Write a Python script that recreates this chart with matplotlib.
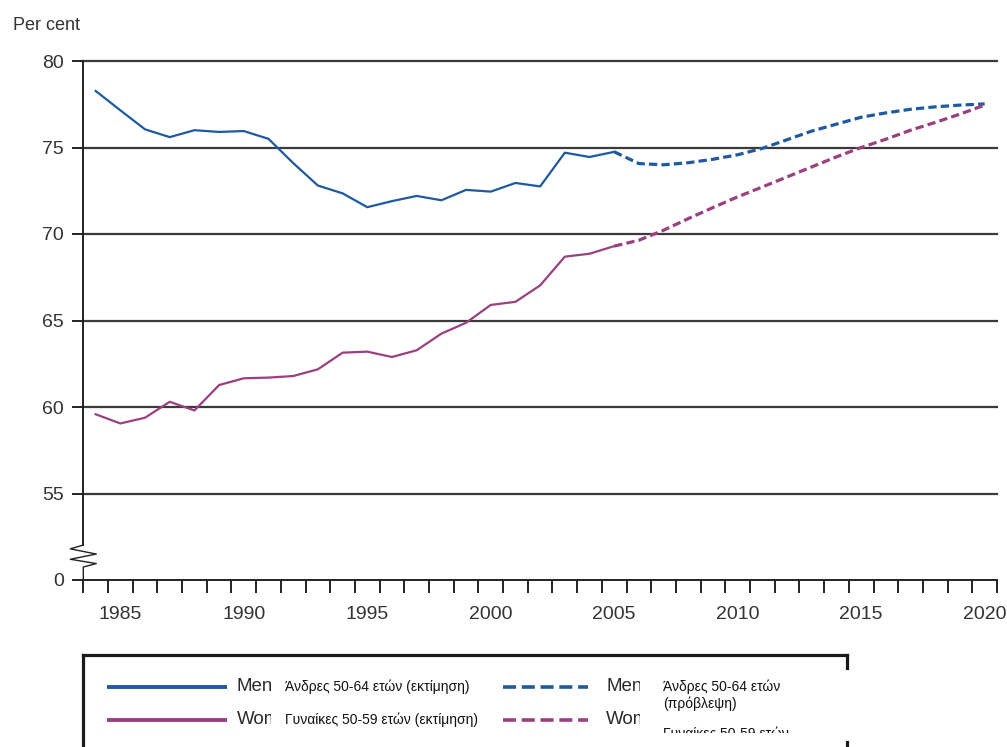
import matplotlib
matplotlib.use("Agg")
import matplotlib.pyplot as plt
from matplotlib.lines import Line2D
from matplotlib.transforms import Bbox, TransformedBbox

# ---------------- data ----------------
est_years = list(range(1984, 2006))
men_est = [78.27, 77.15, 76.05, 75.6, 76.0, 75.9, 75.95, 75.5, 74.1, 72.8, 72.35,
           71.55, 71.9, 72.2, 71.95, 72.55, 72.45, 72.95, 72.75, 74.7, 74.45, 74.75]
women_est = [59.58, 59.05, 59.38, 60.3, 59.8, 61.27, 61.66, 61.7, 61.79, 62.18, 63.14,
             63.2, 62.89, 63.28, 64.24, 64.87, 65.9, 66.08, 67.03, 68.69, 68.86, 69.3]

proj_years = list(range(2005, 2021))
men_proj = [74.75, 74.07, 74.0, 74.12, 74.32, 74.58, 74.95, 75.45, 75.95, 76.35,
            76.75, 77.0, 77.21, 77.35, 77.45, 77.52]
women_proj = [69.3, 69.64, 70.22, 70.89, 71.53, 72.15, 72.72, 73.3, 73.88, 74.46,
              75.0, 75.48, 76.0, 76.45, 76.93, 77.45]

y_ticks = [50, 55, 60, 65, 70, 75, 80]
y_tick_labels = ["0", "55", "60", "65", "70", "75", "80"]
x_label_years = [1985, 1990, 1995, 2000, 2005, 2010, 2015, 2020]

legend_short = ["Men", "Women", "Men", "Women"]
legend_greek = ["Άνδρες 50-64 ετών (εκτίμηση)", "Γυναίκες 50-59 ετών (εκτίμηση)",
                "Άνδρες 50-64 ετών\n(πρόβλεψη)", "Γυναίκες 50-59 ετών"]
y_axis_title = "Per cent"

# ---------------- style ----------------
BLUE = "#1d5aa0"
PURPLE = "#9a3f80"
GRID = "#3a3a3a"
TXT = "#333333"
SANS = ["Liberation Sans", "DejaVu Sans"]

W, H = 1007, 747
fig = plt.figure(figsize=(W / 100, H / 100), dpi=100)
fig.patch.set_facecolor("white")

ax = fig.add_axes([83.3 / W, 1 - 580 / H, 913.7 / W, 519 / H])
ax.set_xlim(1983.5, 2020.5)
ax.set_ylim(50, 80)

for yv in y_ticks[1:]:
    ax.axhline(yv, color=GRID, lw=1.6, zorder=1, clip_on=False)

ax.plot(est_years, men_est, color=BLUE, lw=1.6, zorder=3)
ax.plot(est_years, women_est, color=PURPLE, lw=1.6, zorder=3)
ax.plot(proj_years, men_proj, color=BLUE, lw=2.3, dashes=(2.6, 1.3), zorder=3)
ax.plot(proj_years, women_proj, color=PURPLE, lw=2.3, dashes=(2.6, 1.3), zorder=3)

for s in ["top", "right", "left"]:
    ax.spines[s].set_visible(False)
ax.spines["bottom"].set_color("#222222")
ax.spines["bottom"].set_linewidth(1.4)

# broken left axis
trans = ax.get_yaxis_transform()
dx = 13 / 913.7
ax.add_line(Line2D([0, 0], [52.02, 80], transform=trans, color="#222222", lw=1.4, clip_on=False))
ax.add_line(Line2D([0, -dx, dx, -dx, dx, 0, 0],
                   [52.02, 51.8, 51.5, 51.2, 50.95, 50.75, 50],
                   transform=trans, color="#222222", lw=1.0, clip_on=False))

ax.set_yticks(y_ticks)
ax.set_yticklabels(y_tick_labels, family=SANS, fontsize=14, color=TXT)
ax.tick_params(axis="y", direction="out", length=8, width=1.4, color="#222222", pad=6)

ax.set_xticks(x_label_years)
ax.set_xticklabels([str(y) for y in x_label_years], family=SANS, fontsize=14, color=TXT)
ax.set_xticks([y + 0.5 for y in range(1983, 2021)], minor=True)
ax.tick_params(axis="x", which="major", length=0, pad=19)
ax.tick_params(axis="x", which="minor", direction="out", length=9, width=1.4, color="#222222")

fig.text(13 / W, 1 - 26 / H, y_axis_title, family=SANS, fontsize=13, color=TXT,
         ha="left", va="center")

# ---------------- legend (pixel overlay) ----------------
ov = fig.add_axes([0, 0, 1, 1], facecolor="none")
ov.set_xlim(0, W)
ov.set_ylim(H, 0)
ov.axis("off")

bc = "#1a1a1a"
ov.add_line(Line2D([83, 847], [655, 655], color=bc, lw=2.3))
ov.add_line(Line2D([83, 83], [655, 747], color=bc, lw=2.3))
ov.add_line(Line2D([847, 847], [655, 668], color=bc, lw=2.3))
ov.add_line(Line2D([847, 847], [742, 747], color=bc, lw=2.3))

rows = [686.5, 720]
colors = [BLUE, PURPLE, BLUE, PURPLE]
styles = ["solid", "solid", "dashed", "dashed"]
line_x = [(107, 227), (107, 227), (503, 588), (503, 588)]
short_x = [237, 237, 606, 606]
greek_x = [285, 285, 663, 663]
short_clip_end = [271, 271, 640, 640]

for i in range(4):
    y = rows[i % 2]
    x0, x1 = line_x[i]
    if styles[i] == "solid":
        ov.add_line(Line2D([x0, x1], [y, y], color=colors[i], lw=2.8, solid_capstyle="butt"))
    else:
        ov.add_line(Line2D([x0, x1], [y, y], color=colors[i], lw=2.6, dashes=(3.6, 1.6)))
    t = ov.text(short_x[i], y, legend_short[i], family=SANS, fontsize=13.5, color="#2a2a2a",
                ha="left", va="center")
    clip = TransformedBbox(Bbox([[short_x[i] - 3, y - 15], [short_clip_end[i], y + 15]]),
                           ov.transData)
    t.set_clip_on(True)
    t.set_clip_box(clip)

# greek labels
ov.text(greek_x[0], rows[0], legend_greek[0], family=SANS, fontsize=10, color="#111111",
        ha="left", va="center")
ov.text(greek_x[1], rows[1], legend_greek[1], family=SANS, fontsize=10, color="#111111",
        ha="left", va="center")
ov.text(greek_x[2], 680, legend_greek[2], family=SANS, fontsize=10, color="#111111",
        ha="left", va="top", linespacing=1.2)
g = ov.text(greek_x[3], 727.5, legend_greek[3], family=SANS, fontsize=10, color="#111111",
            ha="left", va="top")
g.set_clip_on(True)
g.set_clip_box(TransformedBbox(Bbox([[655, 720], [845, 732.5]]), ov.transData))

fig.savefig("out.png", dpi=100, facecolor="white")
